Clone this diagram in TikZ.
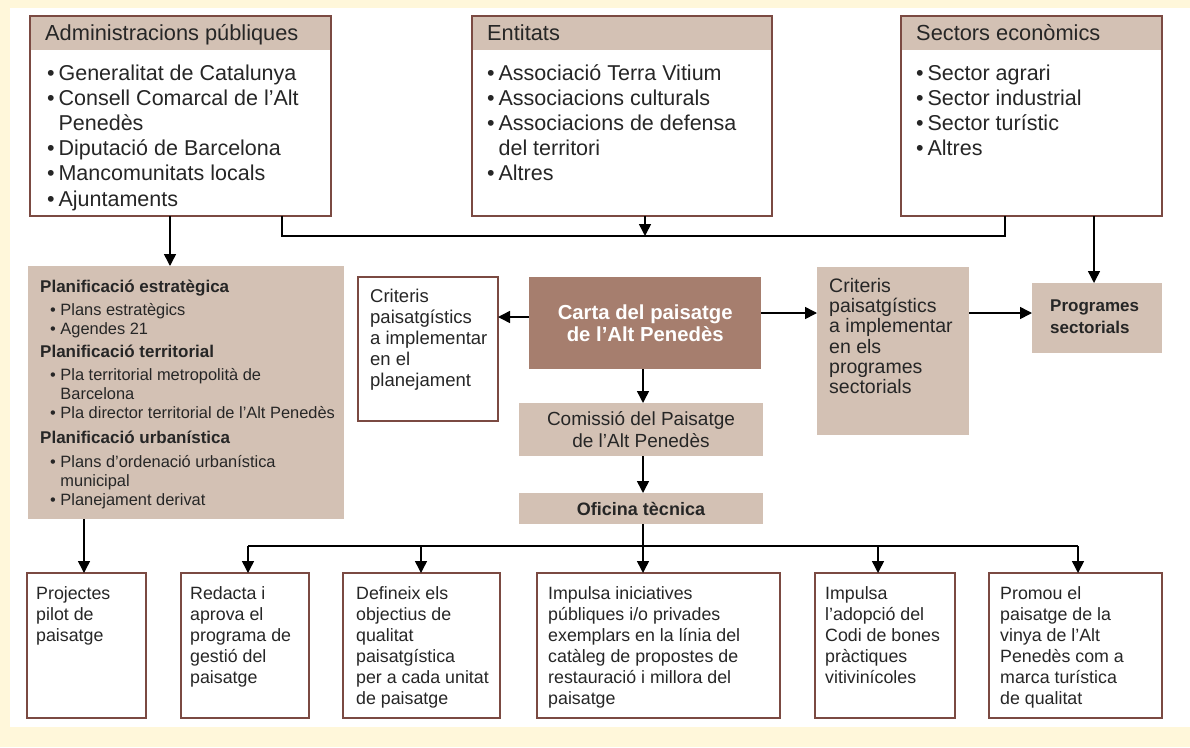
\documentclass[tikz,border=0pt]{standalone}
\usepackage{fontspec}
\setmainfont{Liberation Sans}
\usetikzlibrary{arrows.meta}
\definecolor{cream}{HTML}{FFF7DA}
\definecolor{tanc}{HTML}{D3C1B4}
\definecolor{cartac}{HTML}{A67E6E}
\definecolor{brd}{HTML}{7B4A42}
\definecolor{ink}{HTML}{262626}
\newcommand\ind{\hphantom{•\ }}
\newcommand\bl{•\hspace{0.18em}}
\newcommand\bind{\hphantom{•\hspace{0.18em}}}
\newcommand\tl[1]{\begin{tabular}[t]{@{}l@{}}#1\end{tabular}}
\begin{document}
\begin{tikzpicture}[x=1pt,y=-1pt,
  frame/.style={draw=brd, line width=1.5pt, fill=white, anchor=north west, inner sep=0pt, outer sep=0pt},
  band/.style={fill=tanc, anchor=north west, inner sep=0pt, outer sep=0pt, minimum height=34pt},
  tanbox/.style={fill=tanc, anchor=north west, inner sep=0pt, outer sep=0pt},
  txt/.style={anchor=base west, inner sep=0pt, text=ink},
  hdfont/.style={font=\fontsize{21.8}{25}\selectfont},
  itfont/.style={font=\fontsize{21.5}{25.2}\selectfont},
  midfont/.style={font=\fontsize{17.8}{21}\selectfont},
  pitem/.style={font=\fontsize{16.4}{19}\selectfont},
  phead/.style={font=\fontsize{17}{19}\selectfont\bfseries},
  ln/.style={line width=1.5pt, draw=black},
  arr/.style={ln, -{Triangle[width=12pt,length=12pt]}}
]
\useasboundingbox (0,0) rectangle (1190,747);
\fill[cream] (0,0) rectangle (1190,747);
\fill[white] (10,8) rectangle (1190,727);

% ---- top boxes
\node[frame, minimum width=301pt, minimum height=200pt] (admin) at (30,16) {};
\node[band, minimum width=301pt] (adminhd) at (30,16) {};
\draw[draw=brd, line width=1.5pt] (admin.north west) rectangle (admin.south east);
\node[txt, hdfont] (admint) at (45,40) {Administracions públiques};
\node[txt, itfont] (admini) at (47,80) {\tl{\bl Generalitat de Catalunya\\ \bl Consell Comarcal de l’Alt\\ \bind Penedès\\ \bl Diputació de Barcelona\\ \bl Mancomunitats locals\\ \bl Ajuntaments}};

\node[frame, minimum width=300pt, minimum height=200pt] (entitats) at (472,16) {};
\node[band, minimum width=300pt] (entitatshd) at (472,16) {};
\draw[draw=brd, line width=1.5pt] (entitats.north west) rectangle (entitats.south east);
\node[txt, hdfont] (entitatst) at (487,40) {Entitats};
\node[txt, itfont] (entitatsi) at (487,80) {\tl{\bl Associació Terra Vitium\\ \bl Associacions culturals\\ \bl Associacions de defensa\\ \bind del territori\\ \bl Altres}};

\node[frame, minimum width=261pt, minimum height=200pt] (sectors) at (901,16) {};
\node[band, minimum width=261pt] (sectorshd) at (901,16) {};
\draw[draw=brd, line width=1.5pt] (sectors.north west) rectangle (sectors.south east);
\node[txt, hdfont] (sectorst) at (916,40) {Sectors econòmics};
\node[txt, itfont] (sectorsi) at (916,80) {\tl{\bl Sector agrari\\ \bl Sector industrial\\ \bl Sector turístic\\ \bl Altres}};

% ---- planificacio
\node[tanbox, minimum width=316pt, minimum height=253pt] (planif) at (28,266) {};
\node[txt, phead] (ph1) at (40,292) {Planificació estratègica};
\node[txt, pitem] (pi1) at (50,315) {\tl{• Plans estratègics\\ • Agendes 21}};
\node[txt, phead] (ph2) at (40,357) {Planificació territorial};
\node[txt, pitem] (pi2) at (50,380) {\tl{• Pla territorial metropolità de\\ \ind Barcelona\\ • Pla director territorial de l’Alt Penedès}};
\node[txt, phead] (ph3) at (40,443) {Planificació urbanística};
\node[txt, pitem] (pi3) at (50,467) {\tl{• Plans d’ordenació urbanística\\ \ind municipal\\ • Planejament derivat}};

% ---- centre
\node[frame, minimum width=140pt, minimum height=144pt] (critL) at (358,277) {};
\node[txt, font=\fontsize{18.5}{21}\selectfont] (critLt) at (370,302) {\tl{Criteris\\paisatgístics\\a implementar\\en el\\planejament}};

\node[fill=cartac, anchor=north west, inner sep=0pt, minimum width=232pt, minimum height=92pt, align=center, text=white, font=\fontsize{20.3}{22}\selectfont\bfseries] (carta) at (529,277) {Carta del paisatge\\de l’Alt Penedès};

\node[tanbox, minimum width=244pt, minimum height=53pt, align=center, text=ink, font=\fontsize{19}{22}\selectfont] (comissio) at (519,403) {Comissió del Paisatge\\de l’Alt Penedès};

\node[tanbox, minimum width=244pt, minimum height=31pt, align=center, text=ink, font=\fontsize{18}{21}\selectfont\bfseries] (oficina) at (519,493) {Oficina tècnica};

\node[tanbox, minimum width=152pt, minimum height=168pt] (critR) at (817,267) {};
\node[txt, font=\fontsize{19.5}{20.3}\selectfont] (critRt) at (829,292) {\tl{Criteris\\paisatgístics\\a implementar\\en els\\programes\\sectorials}};

\node[tanbox, minimum width=130pt, minimum height=70pt] (progr) at (1032,283) {};
\node[txt, font=\fontsize{17}{22}\selectfont\bfseries] (progrt) at (1050,311) {\tl{Programes\\sectorials}};

% ---- bottom boxes
\node[frame, minimum width=119pt, minimum height=145pt] (p1) at (27,573) {};
\node[txt, midfont] (p1t) at (36,599) {\tl{Projectes\\pilot de\\paisatge}};
\node[frame, minimum width=128pt, minimum height=145pt] (p2) at (181,573) {};
\node[txt, midfont] (p2t) at (190,599) {\tl{Redacta i\\aprova el\\programa de\\gestió del\\paisatge}};
\node[frame, minimum width=157pt, minimum height=145pt] (p3) at (343,573) {};
\node[txt, midfont] (p3t) at (356,599) {\tl{Defineix els\\objectius de\\qualitat\\paisatgística\\per a cada unitat\\de paisatge}};
\node[frame, minimum width=243pt, minimum height=145pt] (p4) at (537,573) {};
\node[txt, midfont] (p4t) at (548,599) {\tl{Impulsa iniciatives\\públiques i/o privades\\exemplars en la línia del\\catàleg de propostes de\\restauració i millora del\\paisatge}};
\node[frame, minimum width=140pt, minimum height=145pt] (p5) at (815,573) {};
\node[txt, midfont] (p5t) at (825,599) {\tl{Impulsa\\l’adopció del\\Codi de bones\\pràctiques\\vitivinícoles}};
\node[frame, minimum width=173pt, minimum height=145pt] (p6) at (989,573) {};
\node[txt, midfont] (p6t) at (1000,599) {\tl{Promou el\\paisatge de la\\vinya de l’Alt\\Penedès com a\\marca turística\\de qualitat}};

% ---- connectors
\coordinate (busL) at (282,236);
\coordinate (busR) at (1005,236);
\coordinate (busE) at (645,236);
\draw[arr] (admin.south -| 170,0) -- (planif.north -| 170,0);
\draw[ln] (admin.south -| busL) -- (busL) -- (busR) -- (sectors.south -| busR);
\draw[arr] (entitats.south -| busE) -- (busE);
\draw[arr] (sectors.south -| 1094,0) -- (progr.north -| 1094,0);

\draw[arr] (carta.west |- 0,317) -- (critL.east |- 0,317);
\draw[arr] (carta.east |- 0,313) -- (critR.west |- 0,313);
\draw[arr] (critR.east |- 0,313) -- (progr.west |- 0,313);
\draw[arr] (carta.south -| 643,0) -- (comissio.north -| 643,0);
\draw[arr] (comissio.south -| 643,0) -- (oficina.north -| 643,0);

\coordinate (b1) at (248,546);
\coordinate (b2) at (421,546);
\coordinate (b3) at (643,546);
\coordinate (b4) at (878,546);
\coordinate (b5) at (1078,546);
\draw[ln] (oficina.south -| b3) -- (b3);
\draw[ln] (b1) -- (b5);
\draw[arr] (b1) -- (p2.north -| b1);
\draw[arr] (b2) -- (p3.north -| b2);
\draw[arr] (b3) -- (p4.north -| b3);
\draw[arr] (b4) -- (p5.north -| b4);
\draw[arr] (b5) -- (p6.north -| b5);
\draw[arr] (planif.south -| 84,0) -- (p1.north -| 84,0);
\end{tikzpicture}
\end{document}
